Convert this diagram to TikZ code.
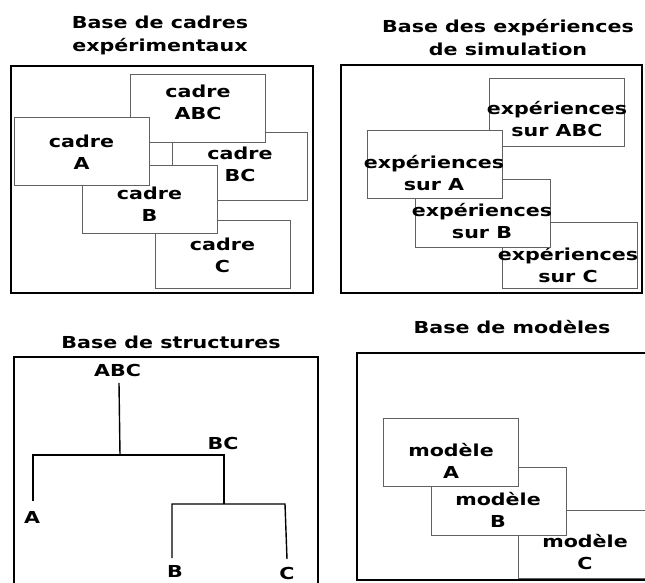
\documentclass[tikz,border=0pt]{standalone}
\usepackage{fontspec}
\newfontfamily\djv{DejaVu Sans}[FakeStretch=1.25]
\begin{document}
\begin{tikzpicture}[x=1pt,y=-1pt,
  panel/.style={draw=black,line width=1.8pt},
  bx/.style={draw=black!62,line width=0.9pt,fill=white,minimum width=135pt,minimum height=68pt,inner sep=0pt},
  lbl/.style={font=\djv\bfseries\fontsize{16.5}{22}\selectfont,align=center,inner sep=0pt},
  ttl/.style={font=\djv\bfseries\fontsize{16.5}{23}\selectfont,align=center,inner sep=0pt},
  treeline/.style={draw=black,line width=1.4pt}]
\useasboundingbox (0,0) rectangle (645,583);
\clip (0,0) rectangle (645,583);

% ---------- panel 1 : cadres
\draw[panel] (11,66) rectangle (313,293);
\node[ttl] (t1) at (160,35) {Base de cadres\\expérimentaux};
\node[bx] (cBC) at (240,166.5) {};
\node[lbl] (lcBC) at (240,164.5) {cadre\\BC};
\node[bx] (cABC) at (197.5,108) {};
\node[lbl] (lcABC) at (198,102) {cadre\\ABC};
\node[bx] (cC) at (222.5,254) {};
\node[lbl] (lcC) at (222.5,255.5) {cadre\\C};
\node[bx] (cB) at (149.5,199.5) {};
\node[lbl] (lcB) at (149.5,204.5) {cadre\\B};
\node[bx] (cA) at (81.5,151) {};
\node[lbl] (lcA) at (81.5,152.5) {cadre\\A};

% ---------- panel 2 : expériences
\draw[panel] (341,65) rectangle (642,293);
\node[ttl] (t2) at (508,38) {Base des expériences\\de simulation};
\node[bx] (eABC) at (556.5,112) {};
\node[lbl] (leABC) at (557,119.5) {expériences\\sur ABC};
\node[bx,minimum height=66pt] (eC) at (569.5,255) {};
\node[lbl] (leC) at (568,265) {expériences\\sur C};
\node[bx] (eB) at (482.5,213) {};
\node[lbl] (leB) at (482,221.5) {expériences\\sur B};
\node[bx] (eA) at (434.5,164) {};
\node[lbl] (leA) at (434,173) {expériences\\sur A};

% ---------- panel 3 : structures
\draw[panel] (14,357) rectangle (318,600);
\node[ttl] (t3) at (171,342) {Base de structures};
\node[lbl] (nABC) at (117.5,370) {ABC};
\node[lbl] (nBC) at (223,443) {BC};
\node[lbl] (nA) at (32,517) {A};
\node[lbl] (nB) at (175,571) {B};
\node[lbl] (nC) at (287,573) {C};
\coordinate (r0) at (119,383);
\coordinate (r1) at (120,455);
\coordinate (jA) at (33,455);
\coordinate (jBC) at (224,455);
\coordinate (eAend) at (33,501);
\coordinate (bc1) at (224,504);
\coordinate (jB) at (172,504);
\coordinate (jC) at (285,504);
\coordinate (eBend) at (172,558);
\coordinate (eCend) at (287,559);
\draw[treeline] (r0) -- (r1);
\draw[treeline] (eAend) -- (jA) -- (jBC) -- (bc1);
\draw[treeline] (eBend) -- (jB) -- (jC) -- (eCend);

% ---------- panel 4 : modèles
\draw[panel] (357,353) rectangle (660,580);
\node[ttl] (t4) at (512,327) {Base de modèles};
\node[bx] (mC) at (585.5,544) {};
\node[lbl] (lmC) at (585,552.5) {modèle\\C};
\node[bx] (mB) at (499,501) {};
\node[lbl] (lmB) at (498,510) {modèle\\B};
\node[bx] (mA) at (450.5,452) {};
\node[lbl] (lmA) at (451,460.5) {modèle\\A};
\end{tikzpicture}
\end{document}
